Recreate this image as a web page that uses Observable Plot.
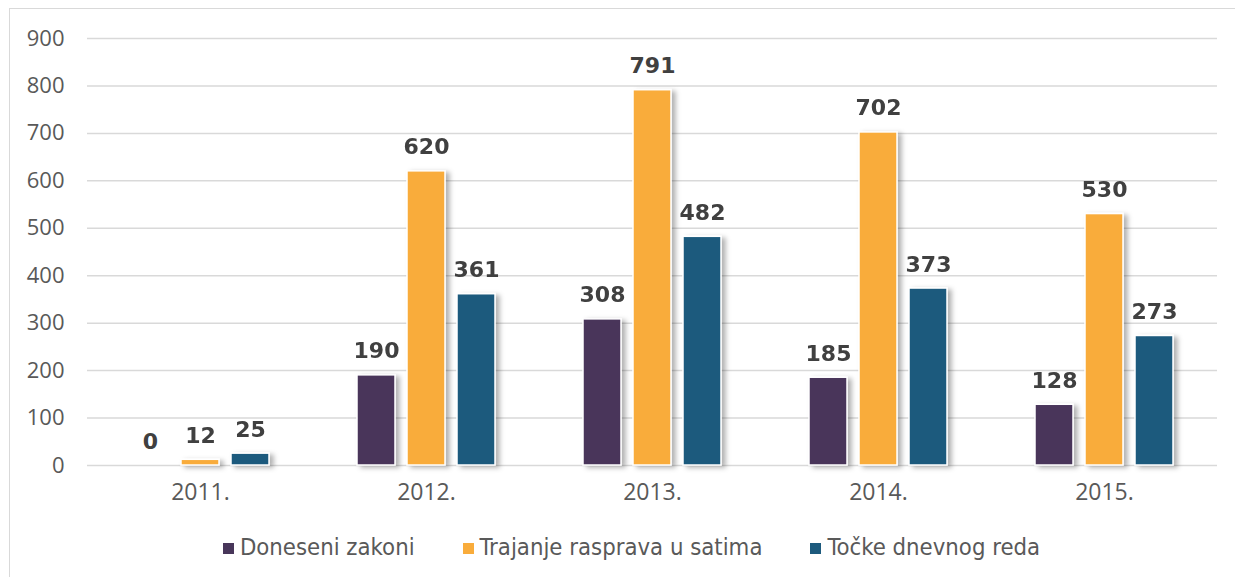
<!DOCTYPE html>
<html>
<head>
<meta charset="utf-8">
<script src="https://cdn.jsdelivr.net/npm/d3@7"></script>
<script src="https://cdn.jsdelivr.net/npm/@observablehq/plot@0.6"></script>
<style>
  html, body { margin: 0; padding: 0; background: #fff; }
  #wrap { position: relative; width: 1235px; height: 577px; overflow: hidden; }
  #frame { position: absolute; left: 9px; top: 8px; width: 1300px; height: 700px;
           border-left: 1.5px solid #d9d9d9; border-top: 1.5px solid #d9d9d9; box-sizing: border-box; }
  #chart { position: absolute; left: 0; top: 0; }
  #legend { position: absolute; left: 14px; width: 1235px; top: 532px; height: 30px; display: flex; justify-content: center; align-items: center;
            font-family: "DejaVu Sans Condensed", "DejaVu Sans", sans-serif; font-size: 23.7px; color: #595959; line-height: 30px; }
  .item { display: flex; align-items: center; margin: 0 24px; }
  .sw { width: 11px; height: 11px; margin-right: 6px; margin-top: 2px; }
</style>
</head>
<body>
<div id="wrap">
  <div id="frame"></div>
  <div id="chart"></div>
  <div id="legend"></div>
</div>
<script>
const years = ["2011.", "2012.", "2013.", "2014.", "2015."];
const seriesNames = ["Doneseni zakoni", "Trajanje rasprava u satima", "Točke dnevnog reda"];
const seriesColors = ["#48365a", "#f9ac3b", "#1d5a7d"];
const doneseniZakoni = [0, 190, 308, 185, 128];
const trajanjeRasprava = [12, 620, 791, 702, 530];
const tockeDnevnogReda = [25, 361, 482, 373, 273];
const yTicks = [0, 100, 200, 300, 400, 500, 600, 700, 800, 900];

const seriesValues = [doneseniZakoni, trajanjeRasprava, tockeDnevnogReda];
const data = [];
years.forEach((yr, i) => {
  seriesNames.forEach((s, j) => data.push({year: yr, series: s, value: seriesValues[j][i]}));
});

const chart = Plot.plot({
  width: 1235,
  height: 520,
  marginLeft: 86,
  marginRight: 18,
  marginTop: 38,
  marginBottom: 55,
  style: {fontFamily: "'Open Sans', sans-serif", background: "transparent"},
  fx: {domain: years, padding: 0, label: null},
  x: {domain: seriesNames, paddingInner: 0.25, paddingOuter: 0.86, axis: null},
  y: {domain: [0, 900], axis: null},
  color: {domain: seriesNames, range: seriesColors},
  marks: [
    Plot.ruleY(yTicks, {stroke: "#d9d9d9", strokeWidth: 1.5}),
    Plot.axisY({ticks: yTicks, tickSize: 0, tickPadding: 23, fontSize: 22, color: "#595959", anchor: "left", label: null}),
    Plot.axisFx({tickSize: 0, tickPadding: 18, fontSize: 23, color: "#595959", label: null, anchor: "bottom"}),
    Plot.barY(data, {fx: "year", x: "series", y: "value", fill: "series", stroke: "white", strokeWidth: 1.5}),
    Plot.text(data, {fx: "year", x: "series", y: "value", text: d => String(d.value), lineAnchor: "bottom", dy: -17,
      fontSize: 22, fontWeight: "bold", fontFamily: "'DejaVu Sans', sans-serif", fill: "#404040"})
  ]
});
document.getElementById("chart").appendChild(chart);

// drop shadow on bars
const svg = d3.select(chart);
const defs = svg.insert("defs", ":first-child");
const f = defs.append("filter").attr("id", "shadow").attr("x", "-20%").attr("y", "-5%").attr("width", "160%").attr("height", "115%");
f.append("feDropShadow").attr("dx", 4).attr("dy", 2).attr("stdDeviation", 2.5).attr("flood-color", "#000").attr("flood-opacity", 0.3);
svg.selectAll('g[aria-label="bar"]').attr("filter", "url(#shadow)");

// legend
const legend = d3.select("#legend");
seriesNames.forEach((s, j) => {
  const it = legend.append("div").attr("class", "item");
  it.append("div").attr("class", "sw").style("background", seriesColors[j]);
  it.append("span").text(s);
});
</script>
</body>
</html>
